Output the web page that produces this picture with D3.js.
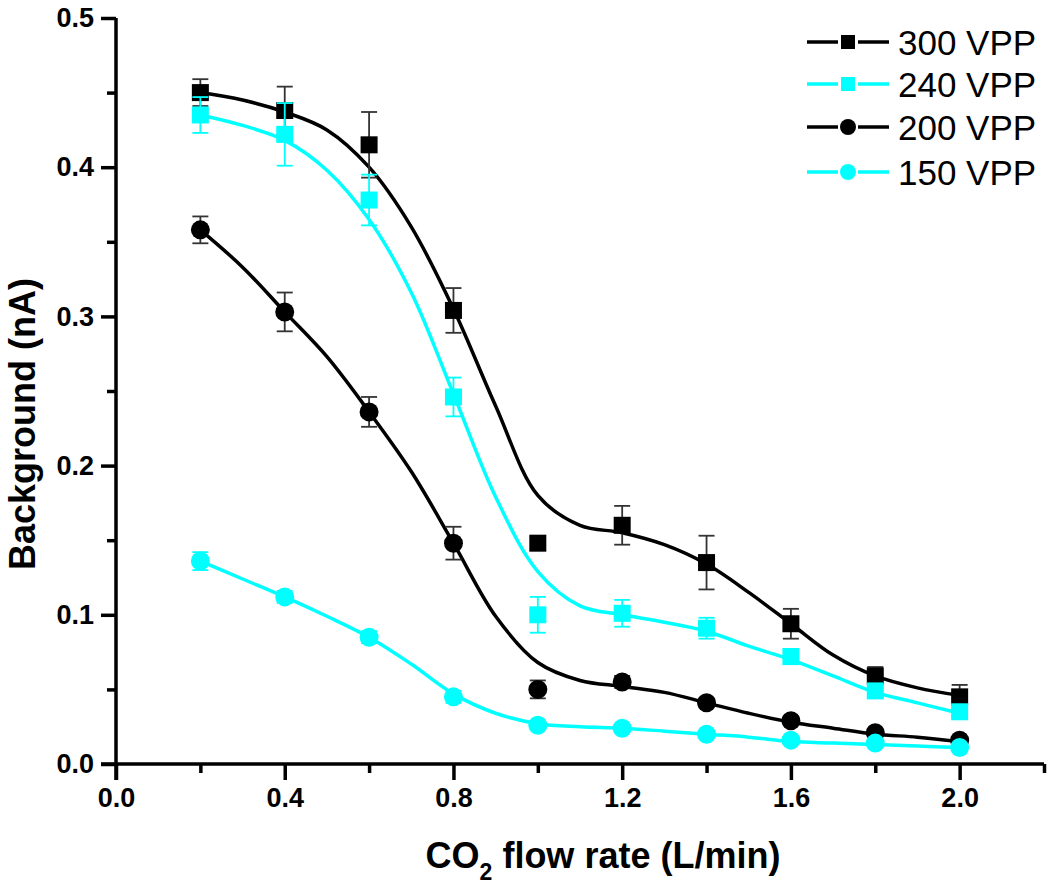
<!DOCTYPE html>
<html><head><meta charset="utf-8">
<script src="https://cdn.jsdelivr.net/npm/d3@7"></script>
<style>body{margin:0;background:#fff}svg{display:block}text{font-family:"Liberation Sans",Arial,sans-serif}</style>
</head><body><svg id="c" width="1050" height="886"></svg>
<script>
const flow = [0.2,0.4,0.6,0.8,1.0,1.2,1.4,1.6,1.8,2.0];
const fitX = [0.2,0.3,0.4,0.5,0.6,0.7,0.8,0.9,1.0,1.1,1.2,1.3,1.4,1.5,1.6,1.7,1.8,1.9,2.0];
const seriesNames = ["300 VPP","240 VPP","200 VPP","150 VPP"];
const v300 = [0.450,0.438,0.415,0.304,0.148,0.160,0.135,0.094,0.059,0.045];
const v240 = [0.435,0.422,0.378,0.246,0.100,0.101,0.091,0.072,0.049,0.035];
const v200 = [0.358,0.303,0.236,0.148,0.050,0.055,0.041,0.029,0.021,0.016];
const v150 = [0.136,0.112,0.085,0.045,0.026,0.024,0.020,0.016,0.014,0.011];
const e300 = [0.009,0.016,0.022,0.015,0.004,0.013,0.018,0.010,0.006,0.008];
const e240 = [0.012,0.021,0.017,0.013,0.012,0.009,0.007,0.005,0.004,0.003];
const e200 = [0.009,0.013,0.010,0.011,0.006,0.004,0.003,0.003,0.002,0.002];
const e150 = [0.006,0.004,0.004,0.004,0.002,0.002,0.002,0.002,0.002,0.002];
const f300 = [0.450,0.445,0.437,0.425,0.400,0.360,0.305,0.240,0.180,0.160,0.155,0.147,0.134,0.115,0.094,0.073,0.059,0.051,0.046];
const f240 = [0.435,0.428,0.418,0.398,0.365,0.316,0.248,0.179,0.129,0.106,0.100,0.095,0.089,0.079,0.070,0.059,0.048,0.041,0.034];
const f200 = [0.358,0.333,0.303,0.273,0.236,0.196,0.148,0.099,0.068,0.056,0.052,0.048,0.041,0.034,0.028,0.024,0.020,0.018,0.015];
const f150 = [0.136,0.124,0.112,0.099,0.085,0.067,0.047,0.034,0.027,0.025,0.024,0.022,0.020,0.018,0.015,0.014,0.013,0.012,0.011];
const xMajor = [0.0,0.4,0.8,1.2,1.6,2.0];
const xMinor = [0.2,0.6,1.0,1.4,1.8,2.2];
const yMajor = [0.0,0.1,0.2,0.3,0.4,0.5];
const yMinor = [0.05,0.15,0.25,0.35,0.45];

const series = [
  {name:seriesNames[0], v:v300, e:e300, f:f300, color:"#000", ecolor:"#333", shape:"square"},
  {name:seriesNames[1], v:v240, e:e240, f:f240, color:"#00ffff", ecolor:"#00ffff", shape:"square"},
  {name:seriesNames[2], v:v200, e:e200, f:f200, color:"#000", ecolor:"#333", shape:"circle"},
  {name:seriesNames[3], v:v150, e:e150, f:f150, color:"#00ffff", ecolor:"#00ffff", shape:"circle"}
];

const svg = d3.select("#c");
const x = d3.scaleLinear().domain([0,2.2]).range([116,1044]);
const y = d3.scaleLinear().domain([0,0.5]).range([764,18]);

// axes
const gx = svg.append("g").attr("transform","translate(0,764)");
gx.call(d3.axisBottom(x).tickValues(xMajor).tickSize(16).tickSizeOuter(0).tickFormat(d3.format(".1f")));
gx.call(g=>g.select(".domain").attr("stroke-width",3.5).attr("d","M101,0H1044"));
gx.selectAll(".tick line").attr("stroke-width",3.5);
gx.selectAll(".tick text").attr("font-size",27).attr("font-weight","bold").attr("y",24).attr("dy","0.71em");
const gxm = svg.append("g").attr("transform","translate(0,764)");
gxm.call(d3.axisBottom(x).tickValues(xMinor).tickSize(9).tickFormat(""));
gxm.select(".domain").remove();
gxm.selectAll(".tick line").attr("stroke-width",3.5);

const gy = svg.append("g").attr("transform","translate(116,0)");
gy.call(d3.axisLeft(y).tickValues(yMajor).tickSize(15).tickSizeOuter(0).tickFormat(d3.format(".1f")));
gy.call(g=>g.select(".domain").attr("stroke-width",3.5).attr("d","M0,18V780"));
gy.selectAll(".tick line").attr("stroke-width",3.5);
gy.selectAll(".tick text").attr("font-size",27).attr("font-weight","bold").attr("x",-22);
const gym = svg.append("g").attr("transform","translate(116,0)");
gym.call(d3.axisLeft(y).tickValues(yMinor).tickSize(9).tickFormat(""));
gym.select(".domain").remove();
gym.selectAll(".tick line").attr("stroke-width",3.5);

// titles
const xt = svg.append("text").attr("x",603).attr("y",868).attr("text-anchor","middle")
  .attr("font-size",36).attr("font-weight","bold");
xt.append("tspan").text("CO");
xt.append("tspan").attr("font-size",23).attr("dy",12).text("2");
xt.append("tspan").attr("dy",-12).text(" flow rate (L/min)");
svg.append("text").attr("transform","translate(35,424) rotate(-90)").attr("text-anchor","middle")
  .attr("font-size",36).attr("font-weight","bold").text("Background (nA)");

const line = d3.line().x((d,i)=>x(fitX[i])).y(d=>y(d)).curve(d3.curveCatmullRom.alpha(0.5));

function marker(g, s, cx, cy, size){
  if(s.shape==="square"){
    g.append("rect").attr("x",cx-size/2).attr("y",cy-size/2).attr("width",size).attr("height",size).attr("fill",s.color);
  } else {
    g.append("circle").attr("cx",cx).attr("cy",cy).attr("r",size/2+1).attr("fill",s.color);
  }
}

series.forEach(s=>{
  const g = svg.append("g");
  g.append("path").attr("d",line(s.f)).attr("fill","none").attr("stroke",s.color).attr("stroke-width",3.5);
  flow.forEach((fx,i)=>{
    const cx = x(fx), y1 = y(s.v[i]+s.e[i]), y2 = y(s.v[i]-s.e[i]);
    g.append("line").attr("x1",cx).attr("x2",cx).attr("y1",y1).attr("y2",y2).attr("stroke",s.ecolor).attr("stroke-width",1.8);
    [y1,y2].forEach(yy=>g.append("line").attr("x1",cx-8).attr("x2",cx+8).attr("y1",yy).attr("y2",yy).attr("stroke",s.ecolor).attr("stroke-width",1.8));
    marker(g, s, cx, y(s.v[i]), 17);
  });
});

// legend
const legY = [42,84,127,172];
series.forEach((s,i)=>{
  const g = svg.append("g");
  g.append("line").attr("x1",807).attr("x2",889).attr("y1",legY[i]).attr("y2",legY[i]).attr("stroke",s.color).attr("stroke-width",3.5);
  g.append("rect").attr("x",838).attr("y",legY[i]-12).attr("width",20).attr("height",24).attr("fill","#fff");
  marker(g, s, 848, legY[i], 14);
  g.append("text").attr("x",898).attr("y",legY[i]).attr("dy","0.36em").attr("font-size",35).text(s.name);
});
</script></body></html>
